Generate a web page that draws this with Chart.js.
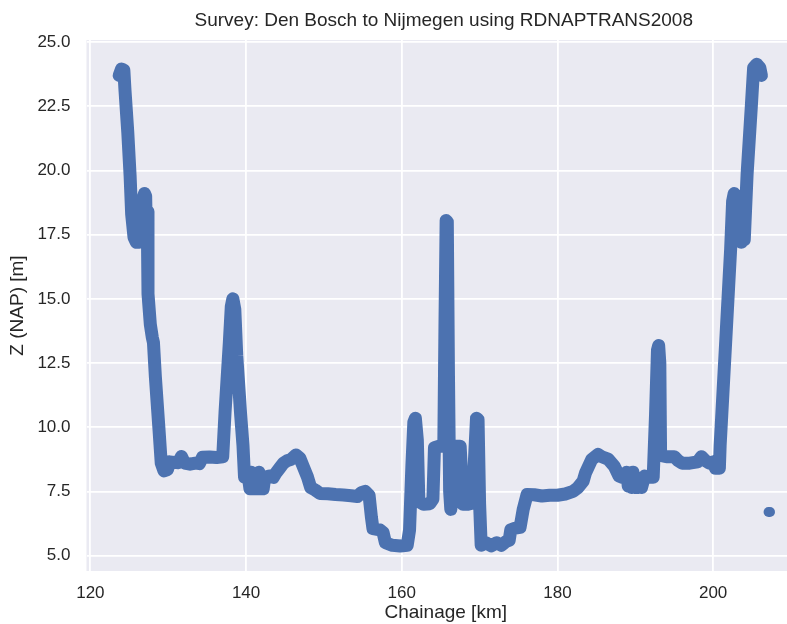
<!DOCTYPE html>
<html>
<head>
<meta charset="utf-8">
<title>Survey profile</title>
<script src="https://cdn.jsdelivr.net/npm/chart.js@4/dist/chart.umd.min.js"></script>
<style>
  html, body { margin: 0; padding: 0; background: #ffffff; overflow: hidden; width: 787px; height: 624px; }
  #wrap { position: relative; width: 805px; height: 624px; }
</style>
</head>
<body>
<div id="wrap"><canvas id="profile" width="805" height="624"></canvas></div>
<script>
// Surveyed height profile along the track (chainage in km, height in m NAP)
const chainageKm = [
  123.7, 124.0, 124.3, 124.45, 124.8, 125.1, 125.3, 125.6, 125.9, 126.1,
  126.25, 126.45, 126.6, 126.75, 126.95, 127.1, 127.2, 127.3, 127.4, 127.7,
  127.95, 128.1, 128.35, 128.8, 129.1, 129.45, 129.9, 130.2, 130.8, 131.3,
  131.7, 132.1, 132.8, 133.5, 134.0, 134.4, 135.3, 136.2, 137.0, 137.3,
  137.85, 138.1, 138.3, 138.55, 138.8, 139.0, 139.3, 139.6, 139.8, 140.3,
  140.5, 140.65, 140.8, 141.0, 141.15, 141.35, 141.5, 141.65, 141.8, 142.0,
  142.2, 142.4, 143.0, 143.5, 143.8, 144.3, 144.8, 145.3, 145.8, 146.4,
  146.9, 147.3, 147.9, 148.3, 148.9, 149.5, 150.5, 151.5, 152.5, 153.5,
  154.3, 154.8, 155.3, 155.8, 156.1, 156.3, 157.2, 157.6, 157.9, 158.8,
  159.8, 160.7, 161.0, 161.3, 161.55, 161.75, 162.0, 162.2, 162.8, 163.6,
  164.0, 164.2, 164.8, 165.4, 165.55, 165.7, 165.85, 166.0, 166.15, 166.3,
  166.45, 166.6, 167.5, 167.75, 167.85, 168.5, 169.1, 169.35, 169.6, 169.8,
  170.0, 170.2, 170.8, 171.5, 172.2, 172.8, 173.4, 173.8, 174.0, 174.6,
  175.2, 175.6, 176.1, 177.0, 178.0, 179.0, 180.0, 181.0, 182.0, 182.6,
  183.3, 183.6, 184.4, 185.2, 185.7, 186.5, 187.3, 187.9, 188.3, 188.9,
  189.1, 189.3, 189.5, 189.7, 189.9, 190.1, 190.3, 190.6, 190.8, 191.2,
  192.0, 192.3, 192.6, 192.85, 193.0, 193.15, 193.25, 194.0, 195.0, 195.5,
  196.0, 197.0, 198.0, 198.5, 199.0, 199.5, 200.0, 200.3, 200.8, 200.9,
  201.6, 202.25, 202.5, 202.7, 202.85, 203.0, 203.15, 203.3, 203.45, 203.6,
  203.8, 204.0, 204.36, 204.9, 205.2, 205.6, 206.0, 206.2
];
const elevationM = [
  23.7, 23.95, 23.9, 23.1, 21.5, 19.8, 18.3, 17.4, 17.2, 18.0,
  17.2, 18.6, 17.3, 18.9, 19.1, 19.0, 17.4, 18.4, 15.2, 14.0,
  13.5, 13.3, 11.95, 9.97, 8.6, 8.3, 8.35, 8.65, 8.63, 8.62,
  8.86, 8.6, 8.56, 8.6, 8.58, 8.83, 8.84, 8.82, 8.85, 10.6,
  13.3, 14.7, 15.0, 14.6, 12.8, 11.9, 10.5, 9.3, 8.05, 8.05,
  7.6, 8.25, 7.6, 8.2, 7.6, 8.0, 7.6, 8.25, 7.6, 7.9,
  7.6, 8.05, 8.1, 8.05, 8.2, 8.4, 8.6, 8.7, 8.75, 8.92,
  8.8, 8.5, 8.05, 7.65, 7.55, 7.42, 7.41, 7.38, 7.36, 7.33,
  7.3, 7.45, 7.5, 7.35, 6.5, 6.05, 6.0, 5.9, 5.5, 5.4,
  5.37, 5.4, 6.0, 8.5, 10.2, 10.35, 9.5, 7.1, 7.0, 7.02,
  7.2, 9.2, 9.26, 9.26, 14.0, 18.05, 18.0, 12.0, 7.5, 6.8,
  7.2, 9.26, 9.26, 7.8, 7.0, 7.0, 7.05, 8.8, 10.35, 10.3,
  7.0, 5.4, 5.5, 5.38, 5.5, 5.4, 5.55, 5.6, 6.0, 6.07,
  6.1, 6.8, 7.38, 7.37, 7.32, 7.35, 7.35, 7.4, 7.5, 7.64,
  7.9, 8.22, 8.74, 8.94, 8.85, 8.76, 8.48, 8.1, 8.05, 8.25,
  7.7, 8.2, 7.65, 8.25, 7.65, 8.0, 7.65, 7.9, 7.65, 8.1,
  8.05, 8.05, 10.5, 13.0, 13.18, 12.5, 8.9, 8.85, 8.85, 8.7,
  8.6, 8.6, 8.65, 8.85, 8.7, 8.6, 8.65, 8.4, 8.4, 9.3,
  13.26, 16.95, 18.8, 19.1, 18.9, 17.3, 18.9, 17.3, 18.7, 17.2,
  17.6, 17.3, 19.84, 22.47, 24.0, 24.14, 24.0, 23.7
];

// Separate short group of readings recorded after the main run
const tailChainageKm = [207.12, 207.3];
const tailElevationM = [6.7, 6.7];

const xTicks = [120, 140, 160, 180, 200];
const yTicks = [5.0, 7.5, 10.0, 12.5, 15.0, 17.5, 20.0, 22.5, 25.0];

const titleText = 'Survey: Den Bosch to Nijmegen using RDNAPTRANS2008';
const FONT = '"Liberation Sans", Arial, Helvetica, sans-serif';
const TEXT = '#262626';
const LINE = '#4C72B0';

const toPoints = (xs, ys) => xs.map((x, i) => ({ x: x, y: ys[i] }));

// Grey panel behind the data, white grid on top of it
const panelBackground = {
  id: 'panelBackground',
  beforeDraw(chart) {
    const a = chart.chartArea;
    const ctx = chart.ctx;
    ctx.save();
    ctx.fillStyle = '#EAEAF2';
    ctx.fillRect(a.left, a.top, a.right - a.left, a.bottom - a.top);
    ctx.restore();
  }
};

// Title centred over the plotting panel
const panelTitle = {
  id: 'panelTitle',
  afterDraw(chart) {
    const a = chart.chartArea;
    const ctx = chart.ctx;
    ctx.save();
    ctx.fillStyle = TEXT;
    ctx.font = '19px ' + FONT;
    ctx.textAlign = 'center';
    ctx.textBaseline = 'middle';
    ctx.fillText(titleText, (a.left + a.right) / 2 - 2, 21);
    ctx.restore();
  }
};

new Chart(document.getElementById('profile'), {
  type: 'line',
  data: {
    datasets: [
      {
        data: toPoints(chainageKm, elevationM),
        borderColor: LINE,
        backgroundColor: LINE,
        borderWidth: 13,
        borderJoinStyle: 'round',
        borderCapStyle: 'round',
        pointRadius: 0,
        tension: 0,
        fill: false
      },
      {
        data: toPoints(tailChainageKm, tailElevationM),
        borderColor: LINE,
        backgroundColor: LINE,
        borderWidth: 10,
        borderJoinStyle: 'round',
        borderCapStyle: 'round',
        pointRadius: 0,
        tension: 0,
        fill: false
      }
    ]
  },
  options: {
    responsive: false,
    animation: false,
    devicePixelRatio: 1,
    layout: { padding: { top: 40, right: 0, bottom: 0, left: 0 } },
    plugins: {
      legend: { display: false },
      title: { display: false },
      tooltip: { enabled: false }
    },
    scales: {
      x: {
        type: 'linear',
        min: 119.5,
        max: 211.8,
        afterBuildTicks: (s) => { s.ticks = xTicks.map(v => ({ value: v })); },
        afterFit: (s) => { s.height = 53; },
        border: { display: false },
        grid: { color: '#ffffff', lineWidth: 1.8, drawTicks: false },
        ticks: {
          padding: 12,
          color: TEXT,
          font: { family: FONT, size: 17 },
          callback: (v) => String(v)
        },
        title: {
          display: true,
          text: 'Chainage [km]',
          color: TEXT,
          font: { family: FONT, size: 19 },
          padding: { top: 0, bottom: 0 }
        }
      },
      y: {
        type: 'linear',
        min: 4.4,
        max: 25.08,
        afterBuildTicks: (s) => { s.ticks = yTicks.map(v => ({ value: v })); },
        afterFit: (s) => { s.width = 86.5; },
        border: { display: false },
        grid: { color: '#ffffff', lineWidth: 1.8, drawTicks: false },
        ticks: {
          padding: 16,
          color: TEXT,
          font: { family: FONT, size: 17 },
          callback: (v) => Number(v).toFixed(1)
        },
        title: {
          display: true,
          text: 'Z (NAP) [m]',
          color: TEXT,
          font: { family: FONT, size: 19 },
          padding: { top: 6, bottom: 0 }
        }
      }
    }
  },
  plugins: [panelBackground, panelTitle]
});
</script>
</body>
</html>
